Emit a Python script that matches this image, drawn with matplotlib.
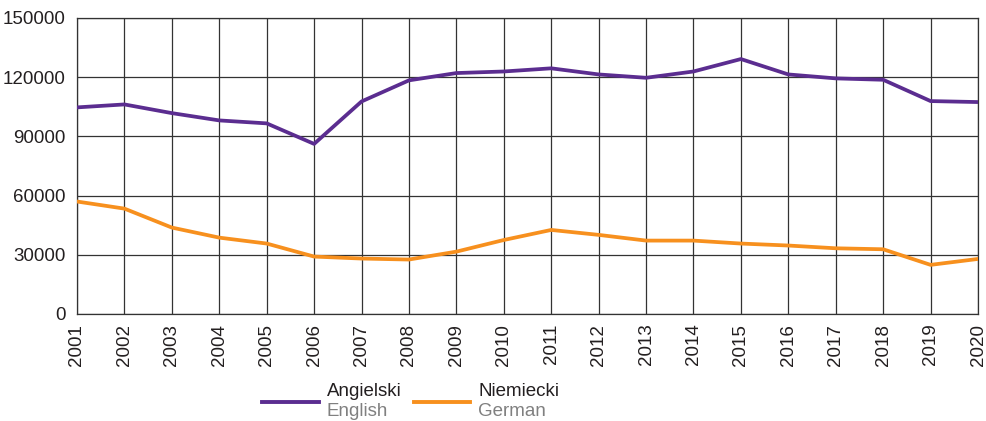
import matplotlib
matplotlib.use("Agg")
import matplotlib.pyplot as plt
from matplotlib.lines import Line2D

plt.rcParams['font.family'] = ['Liberation Sans', 'DejaVu Sans']

years = [str(y) for y in range(2001, 2021)]
english = [104700, 106200, 101800, 98100, 96600, 86200, 107700, 118400, 122100, 122900,
           124500, 121400, 119700, 122900, 129200, 121400, 119400, 118700, 107900, 107400]
german = [57000, 53400, 43800, 38700, 35700, 29100, 28100, 27600, 31600, 37500,
          42600, 40100, 37200, 37200, 35700, 34700, 33300, 32800, 24900, 27900]
yticks = [0, 30000, 60000, 90000, 120000, 150000]

c_en = '#5B2D90'
c_de = '#F7901E'

fig = plt.figure(figsize=(9.86, 4.21), dpi=100)
ax = fig.add_axes([77/986, 107/421, (978-77)/986, (314-18)/421])

x = list(range(len(years)))
ax.plot(x, english, color=c_en, lw=2.7, solid_joinstyle='round', zorder=3)
ax.plot(x, german, color=c_de, lw=2.7, solid_joinstyle='round', zorder=3)

ax.set_xlim(0, len(years)-1)
ax.set_ylim(0, 150000)
ax.set_xticks(x)
ax.set_xticklabels(years, rotation=90, fontsize=13.5)
ax.set_yticks(yticks)
ax.set_yticklabels([str(v) for v in yticks], fontsize=13.5)
ax.tick_params(axis='both', length=0, colors='#231F20')
ax.tick_params(axis='y', pad=8)
ax.tick_params(axis='x', pad=7)
ax.grid(True, color='#333333', lw=0.9)
ax.set_axisbelow(True)
for s in ax.spines.values():
    s.set_color('#333333')
    s.set_linewidth(0.9)

# legend
for x0, x1, col, t1, t2 in [(262, 319, c_en, 'Angielski', 'English'),
                            (414, 470, c_de, 'Niemiecki', 'German')]:
    fig.add_artist(Line2D([x0/986, x1/986], [1-402/421, 1-402/421], color=col, lw=2.8,
                          transform=fig.transFigure))
    fig.text((x1+8)/986, 1-392/421, t1, fontsize=13.5, color='#231F20', va='center', ha='left')
    fig.text((x1+8)/986, 1-412/421, t2, fontsize=13.5, color='#808080', va='center', ha='left')

fig.savefig('out.png', dpi=100)
